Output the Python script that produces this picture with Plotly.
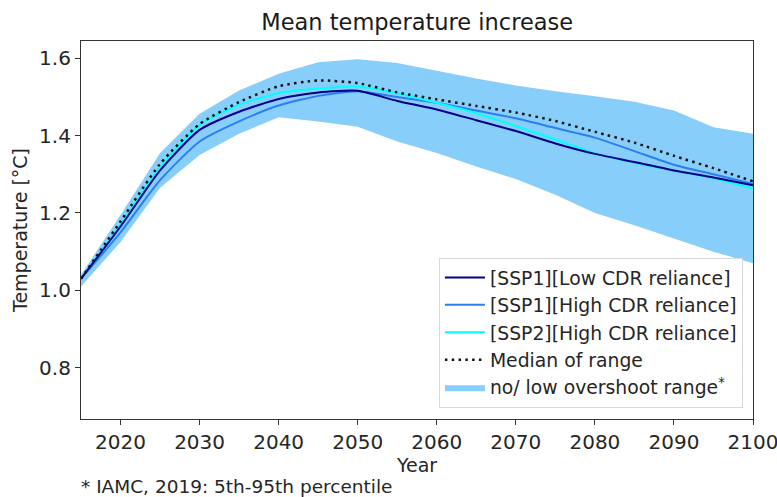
import plotly.graph_objects as go

years = [2015, 2020, 2025, 2030, 2035, 2040, 2045, 2050, 2055, 2060,
         2065, 2070, 2075, 2080, 2085, 2090, 2095, 2100]

range_upper = [1.04, 1.195, 1.355, 1.457, 1.517, 1.56, 1.59, 1.598, 1.588, 1.568,
               1.548, 1.53, 1.515, 1.502, 1.488, 1.465, 1.422, 1.405]
range_lower = [1.01, 1.125, 1.265, 1.35, 1.405, 1.448, 1.437, 1.423, 1.385, 1.355,
               1.32, 1.288, 1.247, 1.2, 1.168, 1.135, 1.1, 1.07]
median = [1.03, 1.178, 1.327, 1.43, 1.487, 1.528, 1.543, 1.536, 1.512, 1.494,
          1.477, 1.46, 1.438, 1.41, 1.382, 1.348, 1.316, 1.282]
ssp1_low = [1.03, 1.165, 1.31, 1.415, 1.462, 1.495, 1.512, 1.516, 1.49, 1.468,
            1.44, 1.412, 1.38, 1.353, 1.332, 1.31, 1.292, 1.272]
ssp1_high = [1.03, 1.15, 1.285, 1.385, 1.437, 1.478, 1.503, 1.515, 1.50, 1.485,
             1.465, 1.445, 1.42, 1.395, 1.36, 1.325, 1.3, 1.275]
ssp2_high = [1.03, 1.17, 1.318, 1.428, 1.48, 1.51, 1.522, 1.527, 1.51, 1.485,
             1.458, 1.425, 1.39, 1.355, 1.33, 1.31, 1.29, 1.263]

FONT = "DejaVu Sans"
TXT = "#262626"
fig = go.Figure()

fig.add_trace(go.Scatter(x=years, y=range_lower, mode="lines",
                         line=dict(width=0, color="#87cefa"),
                         showlegend=False, hoverinfo="skip"))
fig.add_trace(go.Scatter(x=years, y=range_upper, mode="lines",
                         line=dict(width=0, color="#87cefa"),
                         fill="tonexty", fillcolor="#87cefa",
                         name="no/ low overshoot range<sup>*</sup>", legendrank=5))
fig.add_trace(go.Scatter(x=years, y=ssp1_high, mode="lines",
                         line=dict(width=2, color="#2c7ef2", shape="spline", smoothing=0.6),
                         name="[SSP1][High CDR reliance]", legendrank=2))
fig.add_trace(go.Scatter(x=years, y=ssp2_high, mode="lines",
                         line=dict(width=2, color="#00ffff", shape="spline", smoothing=0.6),
                         name="[SSP2][High CDR reliance]", legendrank=3))
fig.add_trace(go.Scatter(x=years, y=ssp1_low, mode="lines",
                         line=dict(width=2, color="#00008b", shape="spline", smoothing=0.6),
                         name="[SSP1][Low CDR reliance]", legendrank=1))
fig.add_trace(go.Scatter(x=years, y=median, mode="lines",
                         line=dict(width=2.5, color="#111111", dash="2.5px,4.3px",
                                   shape="spline", smoothing=0.6),
                         name="Median of range", legendrank=4))

fig.update_layout(
    width=777, height=497,
    margin=dict(l=81, r=24, t=41, b=78),
    paper_bgcolor="white", plot_bgcolor="white",
    font=dict(family=FONT, size=19, color=TXT),
    title=dict(text="Mean temperature increase", x=0.537, xanchor="center",
               y=0.955, yanchor="middle", font=dict(size=22.5, color="#1a1a1a")),
    showlegend=True,
    legend=dict(x=0.985, y=0.03, xanchor="right", yanchor="bottom",
                traceorder="normal",
                bgcolor="rgba(255,255,255,0.9)", bordercolor="#d9d9d9", borderwidth=1,
                font=dict(size=18.8, color=TXT), tracegroupgap=0,
                itemwidth=40),
    xaxis=dict(range=[2015, 2100], tickvals=[2020, 2030, 2040, 2050, 2060, 2070, 2080, 2090, 2100],
               showgrid=False, zeroline=False, showline=True, mirror=True, automargin=False,
               linecolor="#333333", linewidth=1.2, ticks="outside", ticklen=5,
               tickcolor="#333333", tickfont=dict(size=20), ticklabeloverflow="allow",
               title=dict(text="Year", standoff=2, font=dict(size=19))),
    yaxis=dict(range=[0.667, 1.645], tickvals=[0.8, 1.0, 1.2, 1.4, 1.6],
               ticktext=["0.8", "1.0", "1.2", "1.4", "1.6"],
               showgrid=False, zeroline=False, showline=True, mirror=True, automargin=False,
               linecolor="#333333", linewidth=1.2, ticks="outside", ticklen=5,
               tickcolor="#333333", tickfont=dict(size=20), ticklabeloverflow="allow",
               title=dict(text="Temperature [°C]", standoff=6, font=dict(size=19))),
)

fig.add_annotation(text="* IAMC, 2019: 5th-95th percentile", xref="paper", yref="paper",
                   x=-0.003, y=-0.178, xanchor="left", yanchor="middle", showarrow=False,
                   font=dict(size=18.5, color=TXT))

fig.write_html("out.html")
